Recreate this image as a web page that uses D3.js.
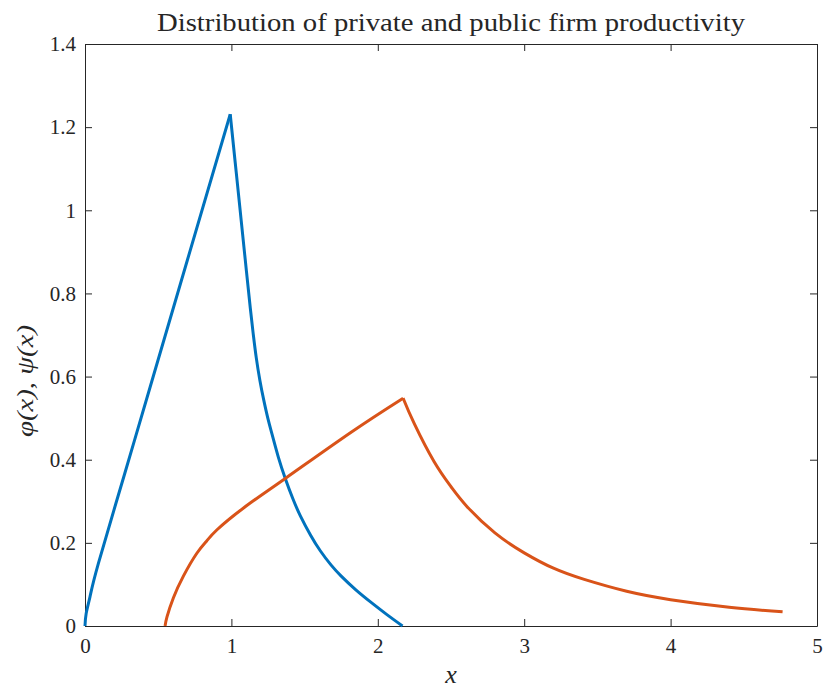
<!DOCTYPE html>
<html lang="en">
<head>
    <meta charset="UTF-8">
    <title>Firm productivity</title>
    <script src="https://d3js.org/d3.v7.min.js"></script>
    <style>
        body { margin: 0; background: #fff; }
        text { font-family: "Liberation Serif", "DejaVu Serif", serif; fill: #262626; }
    </style>
</head>
<body>

<script>
    // private firms, phi(x)
    privX = [0, 0.008, 0.034, 0.091, 0.27, 0.445, 0.70, 0.992,
             1.026, 1.060, 1.094, 1.129, 1.15, 1.17, 1.195, 1.22, 1.25, 1.277, 1.32, 1.368,
             1.42, 1.471, 1.54, 1.607, 1.68, 1.75, 1.85, 1.95, 2.06, 2.169]
    privY = [0, 0.03, 0.07, 0.15, 0.365, 0.575, 0.881, 1.231,
             1.115, 0.999, 0.883, 0.765, 0.700, 0.645, 0.590, 0.545, 0.498, 0.462, 0.407, 0.355,
             0.306, 0.265, 0.219, 0.181, 0.147, 0.120, 0.087, 0.058, 0.028, 0]

    // public firms, psi(x)
    pubX = [0.547, 0.56, 0.604, 0.672, 0.764, 0.83, 0.90, 1.083, 1.368, 1.813, 2.173,
            2.25, 2.385, 2.5, 2.61, 2.8, 3.0, 3.2, 3.41, 3.7, 4.0, 4.4, 4.765]
    pubY = [0, 0.022, 0.068, 0.120, 0.175, 0.204, 0.231, 0.284, 0.355, 0.465, 0.548,
            0.486, 0.395, 0.335, 0.287, 0.224, 0.176, 0.139, 0.112, 0.0835, 0.0634, 0.0452, 0.034]

    xTicks = [0, 1, 2, 3, 4, 5]
    yTicks = [0, 0.2, 0.4, 0.6, 0.8, 1, 1.2, 1.4]

    //chart dimensions
    w = 827
    h = 691
    margin = {top: 44, right: 10, bottom: 65, left: 85}
    width = w - margin.left - margin.right
    height = h - margin.top - margin.bottom

    svg = d3.select("body")
        .append("svg")
        .attr("width", w)
        .attr("height", h)
        .append("g")
        .attr("transform", "translate(" + margin.left + "," + margin.top + ")")

    x = d3.scaleLinear().domain([0, 5]).range([0, width])
    y = d3.scaleLinear().domain([0, 1.4]).range([height, 0])

    fmt = d => d3.format("")(+d.toFixed(1))

    // axes, ticks pointing inward like matlab
    function styleAxis(g) {
        g.attr("font-family", null)
        g.select(".domain").attr("stroke", "#262626").attr("stroke-width", 1)
        g.selectAll(".tick line").attr("stroke", "#262626").attr("stroke-width", 1)
        g.selectAll(".tick text")
            .style("font-family", "'Liberation Serif', serif")
            .style("font-size", "21px")
            .attr("fill", "#262626")
    }

    svg.append("g")
        .attr("transform", "translate(0," + height + ")")
        .call(d3.axisBottom(x).tickValues(xTicks).tickFormat(fmt).tickSizeInner(-7).tickSizeOuter(0).tickPadding(12))
        .call(styleAxis)

    svg.append("g")
        .call(d3.axisTop(x).tickValues(xTicks).tickFormat("").tickSizeInner(-7).tickSizeOuter(0))
        .call(styleAxis)

    svg.append("g")
        .call(d3.axisLeft(y).tickValues(yTicks).tickFormat(fmt).tickSizeInner(-7).tickSizeOuter(0).tickPadding(9))
        .call(styleAxis)

    svg.append("g")
        .attr("transform", "translate(" + width + ",0)")
        .call(d3.axisRight(y).tickValues(yTicks).tickFormat("").tickSizeInner(-7).tickSizeOuter(0))
        .call(styleAxis)

    // lines: split at the peak so the kink stays sharp, smooth spline elsewhere
    line = d3.line()
        .x(d => x(d[0]))
        .y(d => y(d[1]))
        .curve(d3.curveNatural)

    function drawSeries(xs, ys, color) {
        pts = xs.map((v, i) => [v, ys[i]])
        k = d3.maxIndex(ys)
        ;[pts.slice(0, k + 1), pts.slice(k)].forEach(part => {
            svg.append("path")
                .datum(part)
                .attr("fill", "none")
                .attr("stroke", color)
                .attr("stroke-width", 3)
                .attr("stroke-linejoin", "round")
                .attr("d", line)
        })
    }
    drawSeries(privX, privY, "#0072BD")
    drawSeries(pubX, pubY, "#D95319")

    // title and labels
    svg.append("text")
        .attr("x", width / 2)
        .attr("y", -13)
        .attr("text-anchor", "middle")
        .attr("textLength", 588)
        .attr("lengthAdjust", "spacingAndGlyphs")
        .style("font-size", "25px")
        .text("Distribution of private and public firm productivity")

    svg.append("text")
        .attr("x", width / 2)
        .attr("y", height + 57)
        .attr("text-anchor", "middle")
        .style("font-size", "26px")
        .style("font-style", "italic")
        .text("x")

    svg.append("text")
        .attr("transform", "translate(-52," + (height / 2 + 46) + ") rotate(-90)")
        .attr("text-anchor", "middle")
        .attr("textLength", 112)
        .attr("lengthAdjust", "spacingAndGlyphs")
        .style("font-size", "24px")
        .style("font-style", "italic")
        .text("φ(x), ψ(x)")
</script>

</body>
</html>
